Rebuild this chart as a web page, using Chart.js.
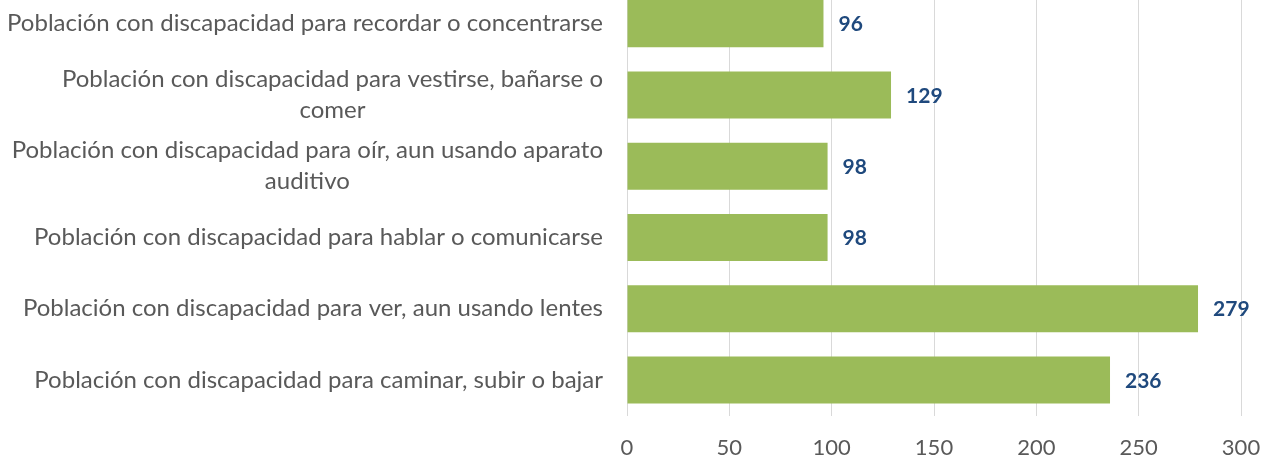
<!DOCTYPE html>
<html>
<head>
<meta charset="utf-8">
<script src="https://cdn.jsdelivr.net/npm/chart.js@4"></script>
<style>
  html, body { margin: 0; padding: 0; background: #fff; overflow: hidden; }
  #wrap { position: absolute; left: 0; top: -12px; width: 1271px; height: 467px; }
</style>
</head>
<body>
<div id="wrap"><canvas id="chart"></canvas></div>
<script>
var categories = [
    "Población con discapacidad para recordar o concentrarse",
    ["Población con discapacidad para vestirse, bañarse o", "comer"],
    ["Población con discapacidad para oír, aun usando aparato", "auditivo"],
    "Población con discapacidad para hablar o comunicarse",
    "Población con discapacidad para ver, aun usando lentes",
    "Población con discapacidad para caminar, subir o bajar"
];
var values = [96, 129, 98, 98, 279, 236];
var xTicks = [0, 50, 100, 150, 200, 250, 300];

var labelFont = "24px Lato";
var textColor = "#595959";

// category labels: single lines right aligned, wrapped lines centred in their block
var categoryLabels = {
    id: "categoryLabels",
    afterDraw: function(chart) {
        var ctx = chart.ctx;
        var yScale = chart.scales.y;
        var right = chart.chartArea.left - 24;
        ctx.save();
        ctx.font = labelFont;
        ctx.fillStyle = textColor;
        ctx.textBaseline = "middle";
        categories.forEach(function(lab, i) {
            var lines = Array.isArray(lab) ? lab : [lab];
            var yc = yScale.getPixelForTick(i);
            var widest = 0;
            lines.forEach(function(l) { widest = Math.max(widest, ctx.measureText(l).width); });
            var cx = right - widest / 2;
            var lh = 31;
            lines.forEach(function(l, j) {
                ctx.textAlign = "center";
                ctx.fillText(l, cx, yc + (j - (lines.length - 1) / 2) * lh);
            });
        });
        ctx.restore();
    }
};

var valueLabels = {
    id: "valueLabels",
    afterDatasetsDraw: function(chart) {
        var ctx = chart.ctx;
        var meta = chart.getDatasetMeta(0);
        ctx.save();
        ctx.font = "bold 21px Lato";
        ctx.fillStyle = "#1F497D";
        ctx.textAlign = "left";
        ctx.textBaseline = "middle";
        meta.data.forEach(function(bar, i) {
            ctx.fillText(values[i], bar.x + 15, bar.y + 1);
        });
        ctx.restore();
    }
};

var ctx = document.getElementById("chart").getContext("2d");
var myChart = new Chart(ctx, {
    type: "bar",
    data: {
        labels: categories,
        datasets: [{
            data: values,
            backgroundColor: "#9BBB59",
            borderWidth: 0,
            categoryPercentage: 0.66,
            barPercentage: 1
        }]
    },
    options: {
        indexAxis: "y",
        responsive: true,
        maintainAspectRatio: false,
        animation: false,
        layout: { padding: { right: 30, top: 0 } },
        plugins: { legend: { display: false }, tooltip: { enabled: false } },
        scales: {
            x: {
                min: 0,
                max: 300,
                afterBuildTicks: function(s) {
                    s.ticks = xTicks.map(function(v) { return { value: v }; });
                },
                grid: { color: "#D9D9D9", drawTicks: false },
                border: { display: false },
                ticks: { color: textColor, font: { family: "Lato", size: 22 }, padding: 19 },
                afterFit: function(s) {
                    s.height = 39.4;
                    s.paddingLeft = 0;
                    s.paddingRight = 0;
                }
            },
            y: {
                grid: { display: false },
                border: { display: false },
                ticks: { display: false },
                afterFit: function(s) { s.width = 627; }
            }
        }
    },
    plugins: [categoryLabels, valueLabels]
});
</script>
</body>
</html>
